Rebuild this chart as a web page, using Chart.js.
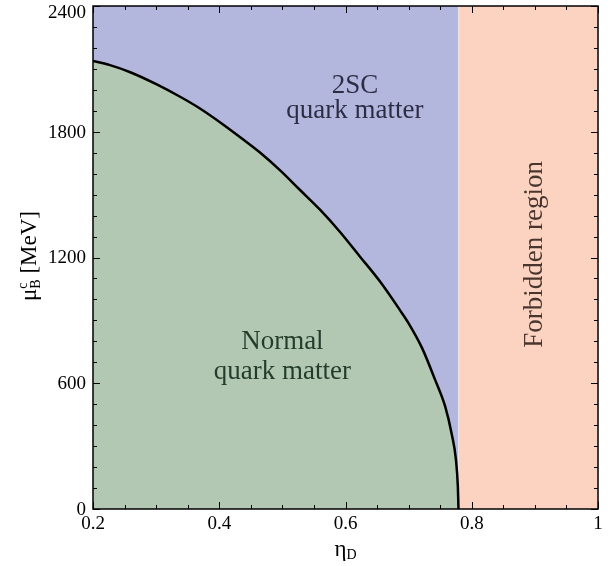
<!DOCTYPE html>
<html>
<head>
<meta charset="utf-8">
<script src="https://cdn.jsdelivr.net/npm/chart.js@4/dist/chart.umd.min.js"></script>
<style>
  html, body { margin: 0; padding: 0; background: #fff; }
  #wrap { width: 613px; height: 566px; }
</style>
</head>
<body>
<div id="wrap"><canvas id="c"></canvas></div>
<script>
'use strict';

// boundary between normal and 2SC quark matter
var etaD = [0.2, 0.227, 0.259, 0.301, 0.338, 0.370, 0.406, 0.438, 0.465, 0.496, 0.528, 0.560,
            0.591, 0.623, 0.655, 0.686, 0.700, 0.721, 0.742, 0.758, 0.768, 0.775, 0.778, 0.779];
var muBc = [2138, 2118, 2084, 2026, 1967, 1910, 1835, 1763, 1700, 1617, 1522, 1427,
            1323, 1204, 1084, 950, 886, 770, 616, 488, 361, 234, 106, 0];

// forbidden region starts where the boundary hits zero
var forbiddenX = [0.779, 1];

var xTicks = [0.2, 0.4, 0.6, 0.8, 1];
var yTicks = [0, 600, 1200, 1800, 2400];

var regionLabels = [
  { lines: ['2SC', 'quark matter'], x: 0.615, y: [2020, 1900], rot: 0, color: 'rgba(20,20,40,0.85)' },
  { lines: ['Normal', 'quark matter'], x: 0.5, y: [795, 655], rot: 0, color: 'rgba(10,35,20,0.85)' },
  { lines: ['Forbidden region'], x: 0.9, y: [1215], rot: -Math.PI / 2, color: 'rgba(40,25,20,0.85)' }
];

var SERIF = '"Liberation Serif", "DejaVu Serif", serif';

var boundary = etaD.map(function(x, i) { return { x: x, y: muBc[i] }; });
var forbidden = forbiddenX.map(function(x) { return { x: x, y: 0 }; });

function drawRich(ctx, parts, cx, cy) {
  // parts: [text, size, dy]
  var w = 0;
  parts.forEach(function(p) {
    ctx.font = p[1] + 'px ' + SERIF;
    p.w = ctx.measureText(p[0]).width;
    w += p.w;
  });
  var x = cx - w / 2;
  ctx.textAlign = 'left';
  ctx.textBaseline = 'alphabetic';
  parts.forEach(function(p) {
    ctx.font = p[1] + 'px ' + SERIF;
    ctx.fillText(p[0], x, cy + p[2]);
    x += p.w;
  });
}

var framePlugin = {
  id: 'frame',
  afterDatasetsDraw: function(chart) {
    var ctx = chart.ctx, a = chart.chartArea;
    var xs = chart.scales.x, ys = chart.scales.y;
    ctx.save();

    // region labels
    regionLabels.forEach(function(r) {
      ctx.fillStyle = r.color;
      ctx.font = '27px ' + SERIF;
      ctx.textAlign = 'center';
      ctx.textBaseline = 'middle';
      r.lines.forEach(function(t, i) {
        var px = xs.getPixelForValue(r.x), py = ys.getPixelForValue(r.y[i]);
        ctx.save();
        ctx.translate(px, py);
        ctx.rotate(r.rot);
        ctx.fillText(t, 0, 0);
        ctx.restore();
      });
    });

    // frame
    ctx.strokeStyle = '#000';
    ctx.lineWidth = 1.5;
    ctx.strokeRect(a.left, a.top, a.right - a.left, a.bottom - a.top);

    // inward ticks
    ctx.lineWidth = 1;
    var i, p, len;
    for (i = 0; i <= 16; i++) {
      p = Math.round(xs.getPixelForValue(0.2 + i * 0.05)) + 0.5;
      len = i % 4 === 0 ? 7 : 4;
      ctx.beginPath();
      ctx.moveTo(p, a.bottom); ctx.lineTo(p, a.bottom - len);
      ctx.moveTo(p, a.top); ctx.lineTo(p, a.top + len);
      ctx.stroke();
    }
    for (i = 0; i <= 24; i++) {
      p = Math.round(ys.getPixelForValue(i * 100)) + 0.5;
      len = i % 6 === 0 ? 7 : 4;
      ctx.beginPath();
      ctx.moveTo(a.left, p); ctx.lineTo(a.left + len, p);
      ctx.moveTo(a.right, p); ctx.lineTo(a.right - len, p);
      ctx.stroke();
    }

    // y tick labels (top one nudged down so it stays on the canvas)
    ctx.fillStyle = '#000';
    ctx.font = '19px ' + SERIF;
    ctx.textAlign = 'right';
    ctx.textBaseline = 'middle';
    yTicks.forEach(function(v) {
      var py = Math.max(ys.getPixelForValue(v), a.top + 6);
      ctx.fillText(String(v), a.left - 7, py + 1);
    });

    // axis titles
    drawRich(ctx, [['η', 23, 0], ['D', 14, 3]], (a.left + a.right) / 2, 556);
    ctx.save();
    ctx.translate(36, 256);
    ctx.rotate(-Math.PI / 2);
    ctx.font = '14px ' + SERIF;
    var wsup = ctx.measureText('c').width;
    var wsub = ctx.measureText('B').width;
    ctx.font = '23px ' + SERIF;
    var wmu = ctx.measureText('μ').width;
    var wrest = ctx.measureText(' [MeV]').width;
    var total = wmu + Math.max(wsup, wsub) + wrest;
    var x0 = -total / 2;
    ctx.textAlign = 'left';
    ctx.textBaseline = 'alphabetic';
    ctx.font = '23px ' + SERIF;
    ctx.fillText('μ', x0, 0);
    ctx.font = '14px ' + SERIF;
    ctx.fillText('c', x0 + wmu, -9);
    ctx.fillText('B', x0 + wmu, 4);
    ctx.font = '23px ' + SERIF;
    ctx.fillText(' [MeV]', x0 + wmu + Math.max(wsup, wsub), 0);
    ctx.restore();

    ctx.restore();
  }
};

new Chart(document.getElementById('c'), {
  type: 'line',
  data: {
    datasets: [
      {
        label: 'Normal',
        data: boundary,
        fill: 'origin',
        backgroundColor: 'rgb(178,200,178)',
        borderColor: '#000',
        borderWidth: 2.5,
        pointRadius: 0,
        cubicInterpolationMode: 'monotone'
      },
      {
        label: '2SC',
        data: boundary,
        fill: 'end',
        backgroundColor: 'rgb(179,183,222)',
        borderWidth: 0,
        pointRadius: 0,
        cubicInterpolationMode: 'monotone'
      },
      {
        label: 'Forbidden',
        data: forbidden,
        fill: 'end',
        backgroundColor: 'rgb(252,211,193)',
        borderWidth: 0,
        pointRadius: 0
      }
    ]
  },
  options: {
    responsive: true,
    maintainAspectRatio: false,
    animation: false,
    layout: { padding: { top: 6, right: 15, left: 0, bottom: 0 } },
    plugins: {
      legend: { display: false },
      tooltip: { enabled: false }
    },
    scales: {
      x: {
        type: 'linear',
        min: 0.2,
        max: 1,
        afterBuildTicks: function(s) { s.ticks = xTicks.map(function(v) { return { value: v }; }); },
        afterFit: function(s) { s.height = 57; s.paddingLeft = 0; s.paddingRight = 0; },
        grid: { display: false, drawTicks: false },
        border: { display: false },
        ticks: {
          padding: 4,
          color: '#000',
          font: { family: SERIF, size: 19 },
          maxRotation: 0,
          callback: function(v) { return String(Number(v.toFixed(2))); }
        }
      },
      y: {
        type: 'linear',
        min: 0,
        max: 2400,
        afterBuildTicks: function(s) { s.ticks = yTicks.map(function(v) { return { value: v }; }); },
        afterFit: function(s) { s.width = 93; s.paddingTop = 0; s.paddingBottom = 0; },
        grid: { display: false, drawTicks: false },
        border: { display: false },
        ticks: { display: false }
      }
    }
  },
  plugins: [framePlugin]
});
</script>
</body>
</html>
